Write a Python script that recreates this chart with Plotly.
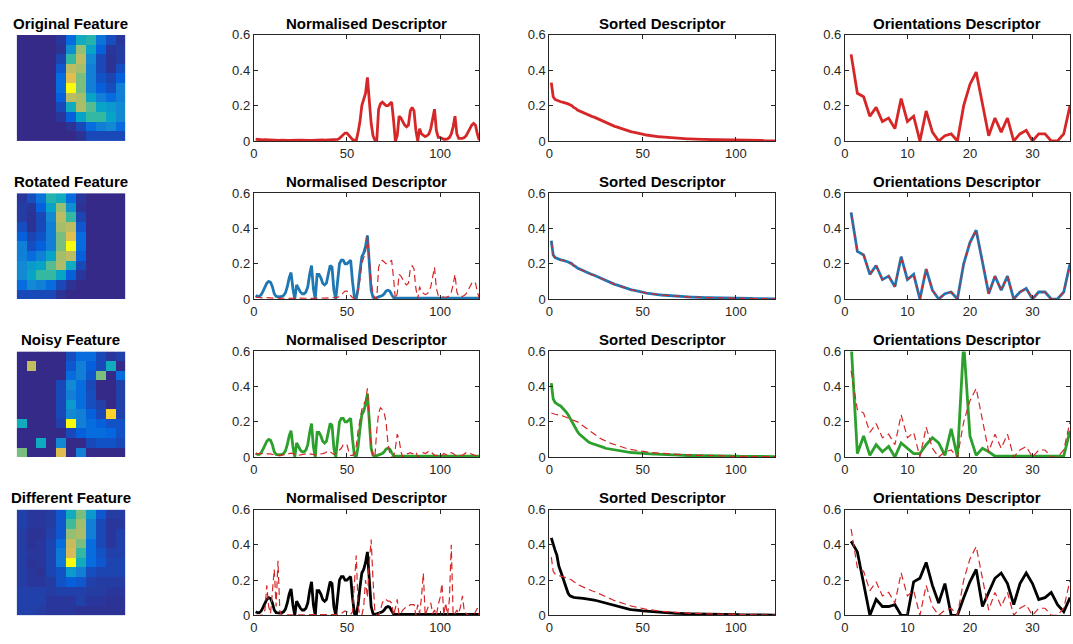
import plotly.graph_objects as go

# ---------------- DATA ----------------
row_titles = ["Original Feature", "Rotated Feature", "Noisy Feature", "Different Feature"]
panel_titles = ["Normalised Descriptor", "Sorted Descriptor", "Orientations Descriptor"]

img_original = [
    [0, 0, 0, 0, 0.03, 0.16, 0.41, 0.46, 0.19, 0.08, 0.03],
    [0, 0, 0, 0, 0.02, 0.29, 0.64, 0.37, 0.12, 0.03, 0.04],
    [0, 0, 0, 0, 0.06, 0.50, 0.71, 0.27, 0.07, 0.02, 0.04],
    [0, 0, 0, 0, 0.10, 0.71, 0.67, 0.23, 0.07, 0.02, 0.08],
    [0, 0, 0, 0, 0.16, 0.79, 0.60, 0.23, 0.09, 0.06, 0.12],
    [0, 0, 0, 0, 0.16, 1.00, 0.60, 0.23, 0.12, 0.08, 0.23],
    [0, 0, 0, 0, 0.12, 0.71, 0.67, 0.37, 0.23, 0.16, 0.23],
    [0, 0, 0, 0, 0.07, 0.41, 0.68, 0.55, 0.37, 0.33, 0.27],
    [0, 0, 0, 0, 0.03, 0.12, 0.37, 0.50, 0.50, 0.37, 0.27],
    [0, 0, 0, 0, 0.00, 0.02, 0.07, 0.16, 0.23, 0.27, 0.16],
    [0, 0, 0, 0, 0.00, 0.00, 0.02, 0.07, 0.07, 0.07, 0.07],
]
img_rotated = [
    [0.03, 0.08, 0.19, 0.46, 0.41, 0.16, 0.03, 0, 0, 0, 0],
    [0.04, 0.03, 0.12, 0.37, 0.64, 0.29, 0.02, 0, 0, 0, 0],
    [0.04, 0.02, 0.07, 0.27, 0.71, 0.50, 0.06, 0, 0, 0, 0],
    [0.08, 0.02, 0.07, 0.23, 0.67, 0.71, 0.10, 0, 0, 0, 0],
    [0.12, 0.06, 0.09, 0.23, 0.60, 0.79, 0.16, 0, 0, 0, 0],
    [0.23, 0.08, 0.12, 0.23, 0.60, 1.00, 0.16, 0, 0, 0, 0],
    [0.23, 0.16, 0.23, 0.37, 0.67, 0.71, 0.12, 0, 0, 0, 0],
    [0.27, 0.33, 0.37, 0.55, 0.68, 0.41, 0.07, 0, 0, 0, 0],
    [0.27, 0.37, 0.50, 0.50, 0.37, 0.12, 0.03, 0, 0, 0, 0],
    [0.16, 0.27, 0.23, 0.16, 0.07, 0.02, 0.00, 0, 0, 0, 0],
    [0.07, 0.07, 0.07, 0.07, 0.02, 0.00, 0.00, 0, 0, 0, 0],
]
img_noisy = [
    [0, 0, 0, 0, 0, 0.08, 0.16, 0.16, 0.07, 0.03, 0.05],
    [0, 0.72, 0, 0, 0, 0.10, 0.23, 0.12, 0.07, 0.41, 0],
    [0, 0, 0, 0, 0, 0.16, 0.23, 0.10, 0.60, 0, 0.16],
    [0, 0, 0, 0, 0.07, 0.27, 0.16, 0.07, 0, 0, 0.05],
    [0, 0, 0, 0, 0.07, 0.23, 0.16, 0.08, 0, 0, 0.05],
    [0, 0, 0, 0, 0.07, 0.33, 0.16, 0.08, 0.05, 0, 0.05],
    [0, 0, 0, 0, 0.07, 0.27, 0.23, 0.12, 0.07, 0.90, 0.05],
    [0.41, 0, 0, 0, 0.05, 1.00, 0.23, 0.16, 0.12, 0.09, 0.09],
    [0, 0, 0, 0, 0, 0.07, 0.12, 0.16, 0.16, 0.14, 0.09],
    [0, 0, 0.40, 0, 0.27, 0, 0, 0.07, 0.09, 0.09, 0.07],
    [0.60, 0, 0, 0, 0.78, 0, 0.23, 0, 0, 0, 0],
]
img_different = [
    [0.05, 0.03, 0.03, 0.04, 0.10, 0.41, 0.60, 0.33, 0.10, 0.04, 0.04],
    [0.05, 0.03, 0.03, 0.04, 0.10, 0.52, 0.66, 0.23, 0.07, 0.03, 0.03],
    [0.04, 0.02, 0.02, 0.05, 0.10, 0.64, 0.68, 0.23, 0.07, 0.03, 0.05],
    [0.04, 0.02, 0.03, 0.06, 0.16, 0.73, 0.60, 0.16, 0.07, 0.03, 0.05],
    [0.04, 0.03, 0.03, 0.06, 0.21, 0.76, 0.50, 0.16, 0.09, 0.05, 0.05],
    [0.04, 0.02, 0.03, 0.06, 0.21, 1.00, 0.41, 0.16, 0.10, 0.06, 0.06],
    [0.04, 0.03, 0.02, 0.06, 0.09, 0.33, 0.23, 0.08, 0.06, 0.06, 0.06],
    [0.04, 0.03, 0.03, 0.04, 0.09, 0.12, 0.10, 0.05, 0.04, 0.04, 0.04],
    [0.05, 0.05, 0.05, 0.04, 0.05, 0.05, 0.05, 0.04, 0.04, 0.03, 0.03],
    [0.05, 0.05, 0.05, 0.03, 0.03, 0.03, 0.05, 0.03, 0.03, 0.02, 0.02],
    [0.05, 0.05, 0.04, 0.03, 0.03, 0.03, 0.02, 0.02, 0.02, 0.02, 0.02],
]

norm_original = [
    0.010, 0.008, 0.006, 0.005, 0.006, 0.008, 0.007, 0.006, 0.005, 0.006,
    0.007, 0.006, 0.005, 0.004, 0.005, 0.006, 0.005, 0.004, 0.004, 0.005,
    0.005, 0.004, 0.004, 0.005, 0.005, 0.004, 0.004, 0.005, 0.005, 0.004,
    0.004, 0.005, 0.005, 0.004, 0.005, 0.006, 0.006, 0.005, 0.006, 0.007,
    0.006, 0.006, 0.007, 0.008, 0.009, 0.015, 0.025, 0.035, 0.045, 0.045,
    0.035, 0.020, 0.008, 0.003, 0.002, 0.050, 0.110, 0.200, 0.240, 0.270,
    0.360, 0.220, 0.100, 0.030, 0.005, 0.000, 0.180, 0.210, 0.220, 0.210,
    0.200, 0.200, 0.210, 0.220, 0.120, 0.000, 0.030, 0.140, 0.130, 0.110,
    0.090, 0.080, 0.090, 0.170, 0.190, 0.170, 0.060, 0.000, 0.070, 0.040,
    0.030, 0.025, 0.030, 0.040, 0.070, 0.120, 0.180, 0.060, 0.020, 0.020,
    0.015, 0.010, 0.010, 0.012, 0.020, 0.040, 0.080, 0.140, 0.040, 0.015,
    0.015, 0.015, 0.020, 0.030, 0.050, 0.070, 0.090, 0.100, 0.090, 0.040,
    0.005,
]
norm_rotated = [
    0.020, 0.015, 0.015, 0.025, 0.045, 0.070, 0.090, 0.100, 0.095, 0.070,
    0.030, 0.015, 0.012, 0.012, 0.015, 0.020, 0.035, 0.070, 0.120, 0.150,
    0.060, 0.000, 0.080, 0.060, 0.040, 0.030, 0.030, 0.040, 0.070, 0.140,
    0.190, 0.060, 0.000, 0.140, 0.140, 0.120, 0.090, 0.080, 0.090, 0.140,
    0.190, 0.180, 0.050, 0.000, 0.120, 0.200, 0.220, 0.220, 0.200, 0.200,
    0.210, 0.220, 0.100, 0.010, 0.000, 0.060, 0.160, 0.240, 0.260, 0.300,
    0.360, 0.200, 0.050, 0.010, 0.005, 0.008, 0.012, 0.015, 0.020, 0.030,
    0.045, 0.050, 0.045, 0.025, 0.008, 0.005, 0.005, 0.005, 0.005, 0.005,
    0.005, 0.005, 0.005, 0.005, 0.005, 0.005, 0.005, 0.005, 0.005, 0.005,
    0.005, 0.005, 0.005, 0.005, 0.005, 0.005, 0.005, 0.005, 0.005, 0.005,
    0.005, 0.005, 0.005, 0.005, 0.005, 0.005, 0.005, 0.005, 0.005, 0.005,
    0.005, 0.005, 0.005, 0.005, 0.005, 0.005, 0.005, 0.005, 0.005, 0.005,
    0.005,
]
norm_noisy_ref = [
    0.020, 0.020, 0.020, 0.020, 0.018, 0.020, 0.022, 0.020, 0.018, 0.015,
    0.012, 0.010, 0.010, 0.010, 0.010, 0.012, 0.015, 0.018, 0.020, 0.022,
    0.020, 0.015, 0.010, 0.010, 0.012, 0.015, 0.018, 0.020, 0.020, 0.018,
    0.015, 0.012, 0.012, 0.015, 0.018, 0.020, 0.020, 0.022, 0.030, 0.035,
    0.030, 0.020, 0.015, 0.020, 0.030, 0.040, 0.050, 0.070, 0.075, 0.070,
    0.030, 0.010, 0.010, 0.020, 0.060, 0.150, 0.220, 0.270, 0.300, 0.320,
    0.390, 0.200, 0.050, 0.010, 0.000, 0.150, 0.250, 0.280, 0.270, 0.250,
    0.200, 0.080, 0.020, 0.000, 0.000, 0.050, 0.130, 0.100, 0.030, 0.000,
    0.015, 0.020, 0.020, 0.025, 0.020, 0.020, 0.030, 0.000, 0.010, 0.020,
    0.025, 0.020, 0.025, 0.035, 0.030, 0.020, 0.010, 0.010, 0.005, 0.005,
    0.010, 0.020, 0.015, 0.010, 0.020, 0.025, 0.020, 0.010, 0.005, 0.005,
    0.010, 0.010, 0.020, 0.025, 0.025, 0.020, 0.015, 0.010, 0.008, 0.008,
    0.005,
]
norm_diff_ref = [
    0.000, 0.000, 0.000, 0.000, 0.005, 0.030, 0.170, 0.050, 0.010, 0.120,
    0.260, 0.050, 0.310, 0.020, 0.000, 0.002, 0.002, 0.002, 0.002, 0.002,
    0.002, 0.002, 0.002, 0.002, 0.002, 0.002, 0.002, 0.002, 0.002, 0.002,
    0.002, 0.002, 0.002, 0.002, 0.002, 0.002, 0.002, 0.002, 0.002, 0.002,
    0.002, 0.002, 0.002, 0.002, 0.002, 0.005, 0.010, 0.020, 0.025, 0.020,
    0.010, 0.005, 0.020, 0.200, 0.340, 0.050, 0.000, 0.000, 0.050, 0.200,
    0.100, 0.300, 0.430, 0.200, 0.020, 0.000, 0.000, 0.030, 0.070, 0.090,
    0.090, 0.080, 0.080, 0.070, 0.000, 0.040, 0.090, 0.000, 0.010, 0.030,
    0.040, 0.050, 0.050, 0.060, 0.060, 0.060, 0.000, 0.060, 0.010, 0.100,
    0.240, 0.000, 0.030, 0.060, 0.070, 0.010, 0.030, 0.000, 0.060, 0.100,
    0.180, 0.000, 0.070, 0.000, 0.090, 0.400, 0.000, 0.010, 0.030, 0.010,
    0.050, 0.110, 0.020, 0.010, 0.000, 0.000, 0.000, 0.000, 0.020, 0.040,
    0.000,
]

sorted_original = [
    0.330, 0.250, 0.235, 0.230, 0.225, 0.222, 0.220, 0.218, 0.215, 0.210,
    0.205, 0.200, 0.190, 0.185, 0.175, 0.170, 0.165, 0.160, 0.155, 0.150,
    0.145, 0.140, 0.138, 0.135, 0.130, 0.125, 0.120, 0.115, 0.110, 0.105,
    0.100, 0.095, 0.090, 0.087, 0.083, 0.080, 0.076, 0.072, 0.068, 0.065,
    0.062, 0.058, 0.055, 0.052, 0.050, 0.047, 0.044, 0.042, 0.040, 0.038,
    0.036, 0.034, 0.032, 0.030, 0.029, 0.027, 0.026, 0.025, 0.024, 0.023,
    0.022, 0.021, 0.020, 0.019, 0.018, 0.017, 0.016, 0.016, 0.015, 0.014,
    0.014, 0.013, 0.013, 0.012, 0.012, 0.011, 0.011, 0.010, 0.010, 0.010,
    0.009, 0.009, 0.009, 0.008, 0.008, 0.008, 0.008, 0.007, 0.007, 0.007,
    0.007, 0.006, 0.006, 0.006, 0.006, 0.006, 0.005, 0.005, 0.005, 0.005,
    0.005, 0.005, 0.004, 0.004, 0.004, 0.004, 0.004, 0.004, 0.003, 0.003,
    0.003, 0.003, 0.003, 0.003, 0.002, 0.002, 0.002, 0.002, 0.002, 0.001,
    0.001,
]
sorted_noisy = [
    0.420, 0.330, 0.310, 0.300, 0.295, 0.290, 0.280, 0.270, 0.255, 0.240,
    0.220, 0.200, 0.180, 0.160, 0.145, 0.130, 0.120, 0.110, 0.100, 0.090,
    0.085, 0.080, 0.077, 0.073, 0.070, 0.066, 0.062, 0.058, 0.055, 0.050,
    0.048, 0.046, 0.044, 0.042, 0.040, 0.038, 0.036, 0.034, 0.032, 0.030,
    0.029, 0.028, 0.027, 0.026, 0.025, 0.024, 0.023, 0.022, 0.021, 0.020,
    0.020, 0.019, 0.019, 0.018, 0.018, 0.017, 0.017, 0.016, 0.016, 0.015,
    0.015, 0.014, 0.014, 0.013, 0.013, 0.012, 0.012, 0.011, 0.011, 0.010,
    0.010, 0.010, 0.009, 0.009, 0.009, 0.009, 0.008, 0.008, 0.008, 0.008,
    0.008, 0.007, 0.007, 0.007, 0.007, 0.007, 0.006, 0.006, 0.006, 0.006,
    0.006, 0.006, 0.005, 0.005, 0.005, 0.005, 0.005, 0.005, 0.005, 0.005,
    0.005, 0.004, 0.004, 0.004, 0.004, 0.004, 0.004, 0.004, 0.004, 0.003,
    0.003, 0.003, 0.003, 0.003, 0.003, 0.003, 0.003, 0.003, 0.003, 0.003,
    0.003,
]
sorted_noisy_ref = [
    0.250, 0.245, 0.243, 0.241, 0.240, 0.237, 0.234, 0.230, 0.226, 0.222,
    0.218, 0.214, 0.210, 0.206, 0.200, 0.193, 0.185, 0.178, 0.170, 0.160,
    0.152, 0.144, 0.136, 0.128, 0.120, 0.114, 0.108, 0.102, 0.096, 0.090,
    0.086, 0.082, 0.078, 0.074, 0.070, 0.066, 0.062, 0.058, 0.054, 0.050,
    0.048, 0.046, 0.044, 0.042, 0.040, 0.038, 0.036, 0.034, 0.032, 0.030,
    0.029, 0.028, 0.027, 0.026, 0.025, 0.024, 0.023, 0.022, 0.021, 0.020,
    0.020, 0.019, 0.019, 0.018, 0.018, 0.017, 0.016, 0.016, 0.015, 0.015,
    0.014, 0.014, 0.013, 0.013, 0.012, 0.012, 0.011, 0.011, 0.010, 0.010,
    0.010, 0.009, 0.009, 0.009, 0.008, 0.008, 0.008, 0.008, 0.007, 0.007,
    0.007, 0.007, 0.006, 0.006, 0.006, 0.006, 0.005, 0.005, 0.005, 0.005,
    0.005, 0.005, 0.004, 0.004, 0.004, 0.004, 0.004, 0.004, 0.003, 0.003,
    0.003, 0.003, 0.003, 0.003, 0.002, 0.002, 0.002, 0.002, 0.002, 0.002,
    0.002,
]
sorted_different = [
    0.440, 0.400, 0.370, 0.340, 0.280, 0.250, 0.220, 0.180, 0.150, 0.125,
    0.110, 0.105, 0.102, 0.100, 0.100, 0.098, 0.097, 0.096, 0.095, 0.094,
    0.092, 0.090, 0.088, 0.086, 0.084, 0.081, 0.078, 0.075, 0.072, 0.069,
    0.066, 0.063, 0.060, 0.057, 0.054, 0.051, 0.048, 0.045, 0.042, 0.040,
    0.038, 0.036, 0.034, 0.032, 0.030, 0.029, 0.028, 0.027, 0.026, 0.025,
    0.024, 0.023, 0.022, 0.021, 0.020, 0.019, 0.018, 0.017, 0.016, 0.015,
    0.015, 0.014, 0.014, 0.013, 0.013, 0.012, 0.012, 0.011, 0.011, 0.010,
    0.010, 0.010, 0.009, 0.009, 0.009, 0.008, 0.008, 0.008, 0.008, 0.007,
    0.007, 0.007, 0.007, 0.006, 0.006, 0.006, 0.006, 0.006, 0.005, 0.005,
    0.005, 0.005, 0.005, 0.005, 0.004, 0.004, 0.004, 0.004, 0.004, 0.004,
    0.004, 0.003, 0.003, 0.003, 0.003, 0.003, 0.003, 0.003, 0.003, 0.002,
    0.002, 0.002, 0.002, 0.002, 0.002, 0.002, 0.002, 0.002, 0.002, 0.001,
    0.001,
]

orient_original = [
    0.49, 0.27, 0.25, 0.14, 0.19, 0.11, 0.13, 0.07, 0.24, 0.11,
    0.14, 0.00, 0.17, 0.05, 0.00, 0.03, 0.04, 0.00, 0.20, 0.32,
    0.39, 0.20, 0.03, 0.13, 0.05, 0.13, 0.00, 0.04, 0.06, 0.00,
    0.04, 0.04, 0.00, 0.00, 0.04, 0.20,
]
orient_noisy = [
    0.65, 0.02, 0.12, 0.01, 0.07, 0.03, 0.06, 0.00, 0.08, 0.05,
    0.02, 0.02, 0.07, 0.11, 0.08, 0.01, 0.16, 0.00, 0.65, 0.12,
    0.01, 0.05, 0.03, 0.005, 0.005, 0.005, 0.005, 0.005, 0.005, 0.005,
    0.005, 0.005, 0.005, 0.005, 0.005, 0.15,
]
orient_different = [
    0.42, 0.36, 0.18, 0.00, 0.09, 0.05, 0.05, 0.06, 0.00, 0.00,
    0.19, 0.21, 0.30, 0.17, 0.07, 0.18, 0.00, 0.00, 0.10, 0.19,
    0.26, 0.05, 0.13, 0.21, 0.24, 0.18, 0.06, 0.18, 0.24, 0.18,
    0.09, 0.10, 0.13, 0.06, 0.02, 0.10,
]

images = [img_original, img_rotated, img_noisy, img_different]
RED, BLUE, GREEN, BLACK = "#d62728", "#1f77b4", "#2ca02c", "#000000"
solid_colors = [RED, BLUE, GREEN, BLACK]
# (solid series, dashed reference series or None) for each row and descriptor column
norm_series = [(norm_original, None), (norm_rotated, norm_original),
               (norm_rotated, norm_noisy_ref), (norm_rotated, norm_diff_ref)]
sorted_series = [(sorted_original, None), (sorted_original, sorted_original),
                 (sorted_noisy, sorted_noisy_ref), (sorted_different, sorted_original)]
orient_series = [(orient_original, None), (orient_original, orient_original),
                 (orient_noisy, orient_original), (orient_different, orient_original)]

# ---------------- LAYOUT ----------------
W, H = 1073, 644
col_px = [(12.7, 121.7), (250.7, 477.0), (547.5, 774.0), (844.0, 1070.0)]
row_px = [(28.6, 137.2), (190.6, 299.0), (352.6, 460.8), (514.6, 622.8)]

parula = [[0.0, "#352a87"], [0.127, "#0363e1"], [0.254, "#1485d4"],
          [0.381, "#06a7c6"], [0.508, "#38b99e"], [0.635, "#92bf73"],
          [0.762, "#d9ba56"], [0.889, "#fccd2e"], [1.0, "#f9fb0e"]]

FONT = "Liberation Sans, Arial, Helvetica, sans-serif"
AXC = "#262626"

fig = go.Figure()
layout = dict(width=W, height=H, margin=dict(l=0, r=0, t=0, b=0),
              paper_bgcolor="white", plot_bgcolor="white", showlegend=False,
              font=dict(family=FONT, size=13, color=AXC))
annotations = []

def dom_x(c):
    a, b = col_px[c]
    return [a / W, b / W]

def dom_y(r):
    t, b = row_px[r]
    return [1 - b / H, 1 - t / H]

for r in range(4):
    for c in range(4):
        n = r * 4 + c + 1
        xa = "xaxis" if n == 1 else f"xaxis{n}"
        ya = "yaxis" if n == 1 else f"yaxis{n}"
        xr = "x" if n == 1 else f"x{n}"
        yr = "y" if n == 1 else f"y{n}"
        if c == 0:
            fig.add_trace(go.Heatmap(z=images[r], colorscale=parula, zmin=0, zmax=1,
                                     showscale=False, xaxis=xr, yaxis=yr,
                                     hoverinfo="skip"))
            layout[xa] = dict(domain=dom_x(c), range=[-0.5, 10.5], visible=False,
                              anchor=yr, fixedrange=True)
            layout[ya] = dict(domain=dom_y(r), range=[10.5, -0.5], visible=False,
                              anchor=xr, fixedrange=True)
            title = row_titles[r]
            cx = sum(col_px[c]) / 2
        else:
            if c == 3:
                series, xmax, xt = orient_series[r], 36, [0, 10, 20, 30]
            elif c == 1:
                series, xmax, xt = norm_series[r], 121, [0, 50, 100]
            else:
                series, xmax, xt = sorted_series[r], 121, [0, 50, 100]
            solid, dashed = series
            fig.add_trace(go.Scatter(x=list(range(1, len(solid) + 1)), y=solid,
                                     mode="lines", line=dict(color=solid_colors[r], width=2.8),
                                     xaxis=xr, yaxis=yr, hoverinfo="skip"))
            if dashed is not None:
                fig.add_trace(go.Scatter(x=list(range(1, len(dashed) + 1)), y=dashed,
                                         mode="lines",
                                         line=dict(color=RED, width=1.2, dash="7px,4px"),
                                         xaxis=xr, yaxis=yr, hoverinfo="skip"))
            common = dict(showline=True, linecolor=AXC, linewidth=1, mirror="ticks",
                          ticks="inside", ticklen=4, tickcolor=AXC, tickwidth=1,
                          showgrid=False, zeroline=False, fixedrange=True,
                          tickfont=dict(family=FONT, size=13, color=AXC))
            layout[xa] = dict(domain=dom_x(c), range=[0, xmax], tickvals=xt,
                              ticktext=[str(v) for v in xt], anchor=yr, **common)
            layout[ya] = dict(domain=dom_y(r), range=[0, 0.6], tickvals=[0, 0.2, 0.4, 0.6],
                              ticktext=["0", "0.2", "0.4", "0.6"], anchor=xr, **common)
            title = panel_titles[c - 1]
            cx = sum(col_px[c]) / 2
        ty = row_px[r][0] - 12
        annotations.append(dict(text=f"<b>{title}</b>", xref="paper", yref="paper",
                                x=cx / W, y=1 - ty / H, xanchor="center", yanchor="middle",
                                showarrow=False, font=dict(family=FONT, size=15, color="black")))

layout["annotations"] = annotations
fig.update_layout(**layout)
fig.write_html("out.html")
